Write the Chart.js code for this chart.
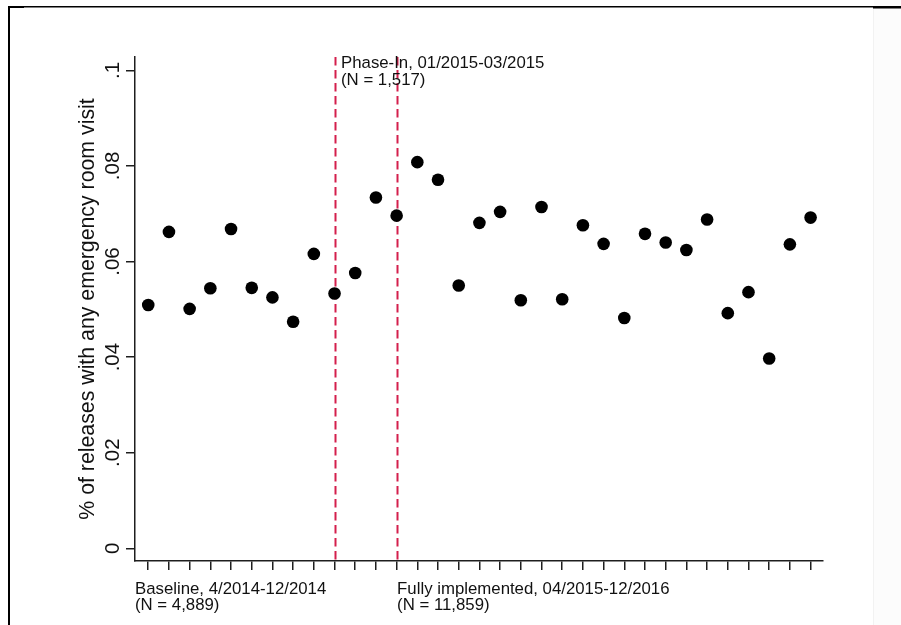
<!DOCTYPE html>
<html>
<head>
<meta charset="utf-8">
<script src="https://cdn.jsdelivr.net/npm/chart.js@4.4.1/dist/chart.umd.min.js"></script>
<style>
  html, body { margin: 0; padding: 0; background: #fff; }
  #wrap { position: relative; width: 901px; height: 625px; }
  canvas { display: block; }
</style>
</head>
<body>
<div id="wrap"><canvas id="chart" width="901" height="625"></canvas></div>
<script>
// Monthly releases, April 2014 through December 2016
const months = [
  '04/2014', '05/2014', '06/2014', '07/2014', '08/2014', '09/2014', '10/2014', '11/2014', '12/2014',
  '01/2015', '02/2015', '03/2015',
  '04/2015', '05/2015', '06/2015', '07/2015', '08/2015', '09/2015', '10/2015', '11/2015', '12/2015',
  '01/2016', '02/2016', '03/2016', '04/2016', '05/2016', '06/2016', '07/2016', '08/2016', '09/2016',
  '10/2016', '11/2016', '12/2016'
];

// Share of releases with any emergency room visit, per month
const erShare = [
  0.0509, 0.0662, 0.0501, 0.0544, 0.0668, 0.0545, 0.0525, 0.0474, 0.0616,
  0.0533, 0.0576, 0.0734,
  0.0696, 0.0808, 0.0771, 0.0550, 0.0681, 0.0704, 0.0519, 0.0714, 0.0521,
  0.0676, 0.0637, 0.0482, 0.0658, 0.0640, 0.0624, 0.0688, 0.0492, 0.0536,
  0.0397, 0.0636, 0.0692
];

const yTickValues = [0, 0.02, 0.04, 0.06, 0.08, 0.1];
const yTickLabels = ['0', '.02', '.04', '.06', '.08', '.1'];
const yTitle = '% of releases with any emergency room visit';

// Period boundaries (month index) and their captions
const phaseInStart = 9;     // 01/2015
const fullStart = 12;       // 04/2015
const baselineText = ['Baseline, 4/2014-12/2014', '(N = 4,889)'];
const phaseInText = ['Phase-In, 01/2015-03/2015', '(N = 1,517)'];
const fullText = ['Fully implemented, 04/2015-12/2016', '(N = 11,859)'];

const FONT = '"Liberation Sans", Arial, Helvetica, sans-serif';
const INK = '#111';
const AXIS = '#1e1e1e';
const DASH = '#d41f4c';

// Page frame lines around the figure
const framePlugin = {
  id: 'frame',
  beforeDraw(chart) {
    const ctx = chart.ctx;
    ctx.save();
    ctx.fillStyle = '#fff';
    ctx.fillRect(0, 0, chart.width, chart.height);
    ctx.fillStyle = '#fcfcfc';
    ctx.fillRect(874, 0, chart.width - 874, chart.height);
    ctx.fillStyle = '#f2f2f2';
    ctx.fillRect(873, 8, 1, chart.height - 8);
    ctx.fillStyle = '#000';
    ctx.fillRect(8, 6, 866, 1.5);
    ctx.fillRect(8, 6, 16, 2);
    ctx.fillRect(873, 6, 28, 2.5);
    ctx.fillRect(8, 6, 2, chart.height - 6);
    ctx.restore();
  }
};

// Dashed period boundaries, drawn beneath the markers
const boundaryPlugin = {
  id: 'boundaries',
  beforeDatasetsDraw(chart) {
    const { ctx, chartArea, scales } = chart;
    ctx.save();
    ctx.strokeStyle = DASH;
    ctx.lineWidth = 2;
    ctx.setLineDash([8.5, 4.5]);
    [phaseInStart, fullStart].forEach(i => {
      const x = Math.round(scales.x.getPixelForValue(i)) + 0.5;
      ctx.beginPath();
      ctx.moveTo(x, chartArea.top);
      ctx.lineTo(x, chartArea.bottom);
      ctx.stroke();
    });
    ctx.restore();
  }
};

// Vertical tick labels, axis title and period captions
const textPlugin = {
  id: 'texts',
  afterDraw(chart) {
    const { ctx, chartArea, scales } = chart;
    ctx.save();
    ctx.fillStyle = INK;

    ctx.font = '20.5px ' + FONT;
    ctx.textAlign = 'center';
    ctx.textBaseline = 'alphabetic';
    yTickValues.forEach((v, i) => {
      const y = scales.y.getPixelForValue(v);
      ctx.save();
      ctx.translate(119, y);
      ctx.rotate(-Math.PI / 2);
      ctx.fillText(yTickLabels[i], 0, 0);
      ctx.restore();
    });

    ctx.font = '21.3px ' + FONT;
    ctx.save();
    ctx.translate(93.5, (chartArea.top + chartArea.bottom) / 2);
    ctx.rotate(-Math.PI / 2);
    ctx.fillText(yTitle, 0, 0);
    ctx.restore();

    ctx.font = '16.8px ' + FONT;
    ctx.textAlign = 'left';
    const xPhase = scales.x.getPixelForValue(phaseInStart) + 6.5;
    phaseInText.forEach((t, k) => ctx.fillText(t, xPhase, 68.3 + k * 16.5));
    const xBase = chartArea.left;
    baselineText.forEach((t, k) => ctx.fillText(t, xBase, 594.3 + k * 15.5));
    const xFull = scales.x.getPixelForValue(fullStart) + 0.5;
    fullText.forEach((t, k) => ctx.fillText(t, xFull, 594.3 + k * 15.5));
    ctx.restore();
  }
};

const gridOpts = {
  drawOnChartArea: false,
  drawTicks: true,
  tickLength: 9,
  color: AXIS,
  lineWidth: 1.5
};

new Chart(document.getElementById('chart').getContext('2d'), {
  type: 'scatter',
  data: {
    datasets: [{
      data: erShare.map((v, i) => ({ x: i, y: v })),
      backgroundColor: '#000',
      borderWidth: 0,
      pointRadius: 6.3,
      pointHoverRadius: 6.3
    }]
  },
  options: {
    responsive: false,
    animation: false,
    devicePixelRatio: 1,
    events: [],
    layout: { padding: { left: 0, top: 57, right: 78, bottom: 0 } },
    plugins: { legend: { display: false }, tooltip: { enabled: false } },
    scales: {
      x: {
        type: 'linear',
        bounds: 'data',
        min: -0.64,
        max: 32.6,
        afterBuildTicks: s => { s.ticks = months.map((m, i) => ({ value: i })); },
        afterFit: s => { s.height = 64; },
        ticks: { display: false },
        grid: gridOpts,
        border: { display: true, color: AXIS, width: 1.5 }
      },
      y: {
        type: 'linear',
        bounds: 'data',
        min: -0.00266,
        max: 0.1028,
        afterBuildTicks: s => { s.ticks = yTickValues.map(v => ({ value: v })); },
        afterFit: s => { s.width = 135; },
        ticks: { display: false },
        grid: gridOpts,
        border: { display: true, color: AXIS, width: 1.5 }
      }
    }
  },
  plugins: [framePlugin, boundaryPlugin, textPlugin]
});
</script>
</body>
</html>
